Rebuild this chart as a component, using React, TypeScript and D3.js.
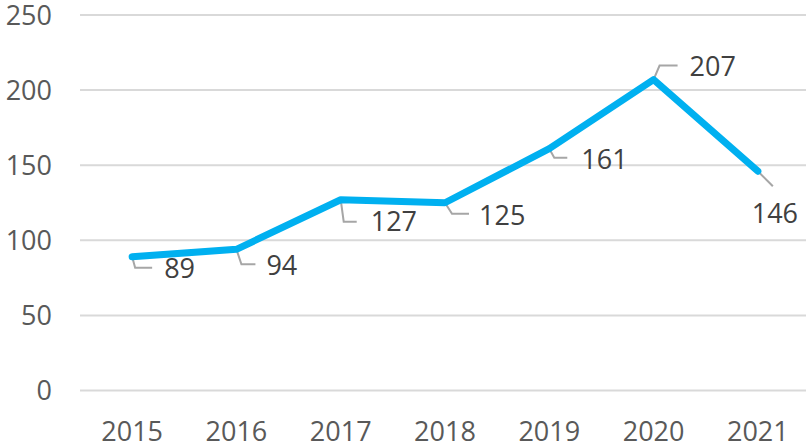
import { useMemo } from 'react';
import * as d3 from 'd3';

const years = ['2015', '2016', '2017', '2018', '2019', '2020', '2021'];
const values = [89, 94, 127, 125, 161, 207, 146];
const yTicks = [0, 50, 100, 150, 200, 250];

// label placement relative to each point: leader elbow, leader end, text anchor
const labelLayout = [
  { ex: 3, ey: 11, lx: 20, ly: 11, tx: 32, ty: 11, anchor: 'start' },
  { ex: 5, ey: 15, lx: 19, ly: 15, tx: 30, ty: 16, anchor: 'start' },
  { ex: 3, ey: 22, lx: 16, ly: 22, tx: 30, ty: 22, anchor: 'start' },
  { ex: 7, ey: 11, lx: 24, ly: 11, tx: 34, ty: 13, anchor: 'start' },
  { ex: 5, ey: 9, lx: 18, ly: 9, tx: 32, ty: 11, anchor: 'start' },
  { ex: 6, ey: -14, lx: 24, ly: -14, tx: 36, ty: -13, anchor: 'start' },
  { ex: 15, ey: 15, lx: 15, ly: 15, tx: 17, ty: 42, anchor: 'middle' },
];

const W = 806;
const H = 444;
const FONT = '"Open Sans", sans-serif';
const FS = 27;

export default function App() {
  const x = useMemo(
    () => d3.scalePoint<string>().domain(years).range([80, 810]).padding(0.5),
    []
  );
  const y = useMemo(() => d3.scaleLinear().domain([0, 250]).range([390.5, 15]), []);

  const line = d3
    .line<number>()
    .x((_, i) => x(years[i]) as number)
    .y(d => y(d));

  return (
    <svg
      width={W}
      height={H}
      style={{ position: 'absolute', left: 0, top: 0, background: '#fff' }}
      fontFamily={FONT}
    >
      {/* gridlines + y labels */}
      {yTicks.map(t => (
        <g key={t}>
          <line x1={80} x2={W} y1={y(t)} y2={y(t)} stroke="#d9d9d9" strokeWidth={2} />
          <text
            x={52}
            y={y(t)}
            dy="0.36em"
            textAnchor="end"
            fontSize={FS}
            fill="#595959"
          >
            {t}
          </text>
        </g>
      ))}

      {/* x labels */}
      {years.map(yr => (
        <text
          key={yr}
          x={x(yr)}
          y={441}
          textAnchor="middle"
          fontSize={FS}
          fill="#595959"
        >
          {yr}
        </text>
      ))}

      {/* leader lines */}
      {values.map((v, i) => {
        const px = x(years[i]) as number;
        const py = y(v);
        const l = labelLayout[i];
        return (
          <polyline
            key={`ld${i}`}
            points={`${px},${py} ${px + l.ex},${py + l.ey} ${px + l.lx},${py + l.ly}`}
            fill="none"
            stroke="#a6a6a6"
            strokeWidth={2}
          />
        );
      })}

      {/* series */}
      <path
        d={line(values) ?? ''}
        fill="none"
        stroke="#00b0f0"
        strokeWidth={7}
        strokeLinejoin="round"
        strokeLinecap="round"
      />

      {/* data labels */}
      {values.map((v, i) => {
        const px = x(years[i]) as number;
        const py = y(v);
        const l = labelLayout[i];
        return (
          <text
            key={`lb${i}`}
            x={px + l.tx}
            y={py + l.ty}
            dy="0.36em"
            textAnchor={l.anchor}
            fontSize={FS}
            fill="#404040"
          >
            {v}
          </text>
        );
      })}
    </svg>
  );
}
